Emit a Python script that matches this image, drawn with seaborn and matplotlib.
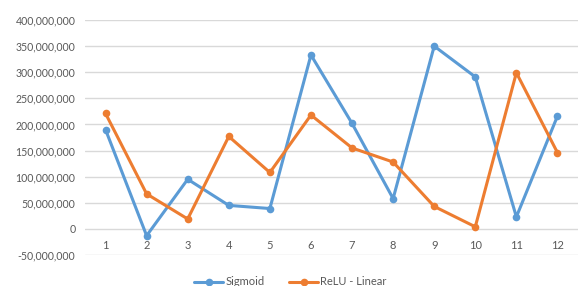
import matplotlib
matplotlib.use("Agg")
import matplotlib.pyplot as plt
import matplotlib.ticker as mticker
import seaborn as sns
import pandas as pd

categories = [1, 2, 3, 4, 5, 6, 7, 8, 9, 10, 11, 12]
sigmoid = [190e6, -13e6, 95e6, 45e6, 39e6, 333e6, 202e6, 58e6, 350e6, 291e6, 23e6, 216e6]
relu_linear = [221e6, 67e6, 19e6, 177e6, 108e6, 218e6, 155e6, 128e6, 43e6, 4e6, 299e6, 146e6]
series_names = ["Sigmoid", "ReLU - Linear"]
y_ticks = [-50e6, 0, 50e6, 100e6, 150e6, 200e6, 250e6, 300e6, 350e6, 400e6]

df = pd.DataFrame({
    "x": categories * 2,
    "value": sigmoid + relu_linear,
    "series": [series_names[0]] * len(categories) + [series_names[1]] * len(categories),
})

sns.set_theme(style="white")
plt.rcParams["font.family"] = ["Lato", "DejaVu Sans"]

fig = plt.figure(figsize=(5.81, 2.86), dpi=100)
ax = fig.add_axes([85 / 581, 1 - 255 / 286, (578 - 85) / 581, (255 - 20) / 286])

sns.lineplot(data=df, x="x", y="value", hue="series", ax=ax,
             palette=["#5B9BD5", "#ED7D31"], marker="o", markersize=5.5,
             markeredgewidth=0, linewidth=2.2, legend=True)

ax.set_xlim(0.5, 12.5)
ax.set_ylim(-50e6, 400e6)
ax.set_yticks(y_ticks)
ax.yaxis.set_major_formatter(mticker.FuncFormatter(lambda v, p: f"{v:,.0f}"))
ax.grid(axis="y", color="#D9D9D9", linewidth=1.0)
ax.set_axisbelow(True)
for s in ax.spines.values():
    s.set_visible(False)
ax.spines["bottom"].set_position(("data", 0))
ax.set_xticks(categories)
ax.set_xticklabels([str(c) for c in categories])
ax.tick_params(axis="x", length=0, pad=8, labelsize=8, labelcolor="#595959")
ax.tick_params(axis="y", length=0, pad=7, labelsize=7.6, labelcolor="#595959")
ax.set_xlabel("")
ax.set_ylabel("")

handles, labels = ax.get_legend_handles_labels()
ax.get_legend().remove()
fig.legend(handles, labels, loc="lower center", bbox_to_anchor=(0.5, -0.04), ncol=2,
           frameon=False, fontsize=8, labelcolor="#595959", handlelength=2.6,
           columnspacing=2.2, handletextpad=0.2)

fig.savefig("out.png", dpi=100)
